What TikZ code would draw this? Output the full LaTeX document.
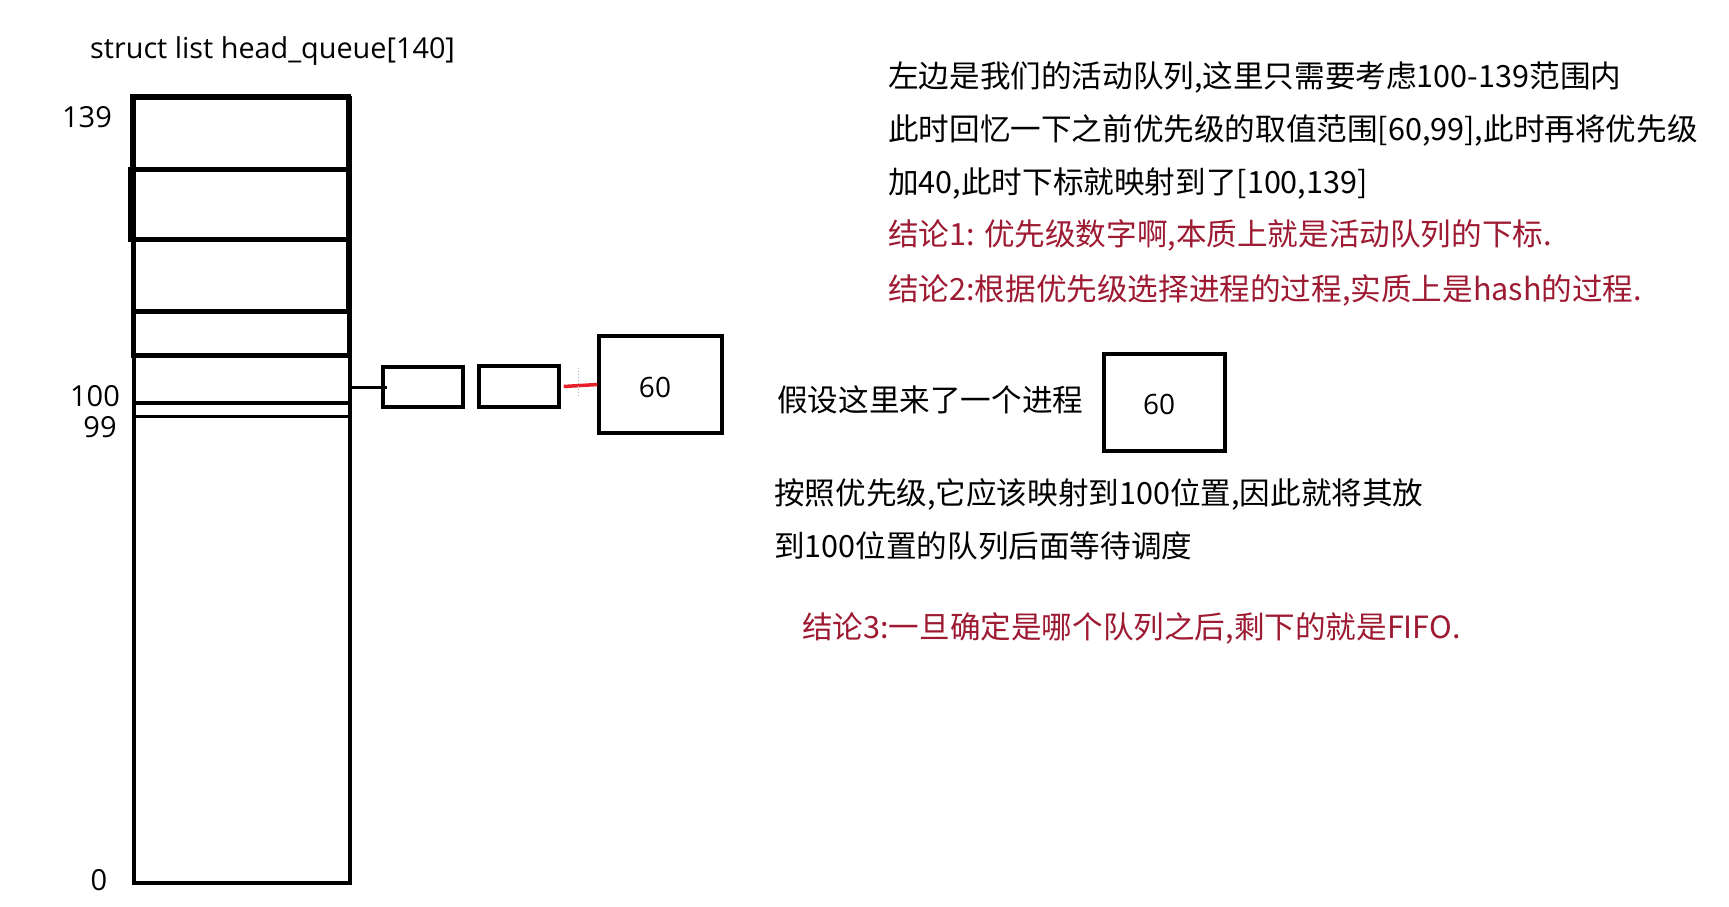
\documentclass[tikz,border=0pt]{standalone}
\usepackage{fontspec}
\setmainfont{Open Sans}
\newfontfamily\cjk{Noto Sans CJK SC}
\definecolor{concl}{HTML}{9E1A32}
\definecolor{linkred}{HTML}{E8202A}
\tikzset{
  txt/.style={anchor=base west, inner sep=0, font=\cjk\fontsize{30.6}{36}\selectfont},
  ctxt/.style={txt, text=concl},
  lbl/.style={anchor=base, inner sep=0, font=\fontsize{29}{34}\selectfont},
  boxsmall/.style={draw, line width=3.5, minimum width=80, minimum height=40, inner sep=0},
  boxbig/.style={draw, line width=3.5, inner sep=0, font=\fontsize{28}{32}\selectfont},
  thickrow/.style={line width=5},
  thinrow/.style={line width=3.2},
  conn/.style={line width=3},
}
\begin{document}
\begin{tikzpicture}[x=1pt,y=-1pt]
\useasboundingbox[fill=white] (0,0) rectangle (1729,906);

% title
\node[anchor=base west, inner sep=0, font=\fontsize{28.8}{34}\selectfont] (title) at (90,58) {struct list head\_queue[140]};

% array
\node[draw, line width=4, minimum width=216, minimum height=785, inner sep=0, anchor=north west] (arr) at (132,96) {};
\draw[thickrow] (132,96) rectangle (348,169);
\draw[thickrow] (130,169) rectangle (348,239);
\draw[thickrow] (133,239) rectangle (348,311);
\draw[thickrow] (133,311) rectangle (349,355);
\draw[thinrow] (132,403) -- (350,403);
\draw[thinrow] (132,416.5) -- (348,416.5);

\node[lbl] (l139) at (87,127) {139};
\node[lbl] (l100) at (95,406) {100};
\node[lbl] (l99) at (100,437) {99};
\node[lbl] (l0) at (99,890) {0};

% list
\node[boxsmall] (b1) at (423,387) {};
\node[boxsmall, minimum height=41] (b2) at (519,386.5) {};
\node[boxbig, minimum width=123, minimum height=97] (bb) at (660.5,384.5) {};
\node[anchor=base, inner sep=0, font=\fontsize{28}{32}\selectfont] (bbt) at (655,397) {60};
\draw[conn] (arr.east |- b1.west) -- ([xshift=6]b1.west);
\draw[linkred, line width=3.5] ([xshift=3]b2.east) -- (bb.west);
\coordinate (d1) at (578,368);
\coordinate (d2) at (578,396);
\draw[gray!60, dotted, line width=1] (d1) -- (d2);

% right texts
\node[txt] (t1) at (888,87) {左边是我们的活动队列,这里只需要考虑100-139范围内};
\node[txt] (t2) at (888,140) {此时回忆一下之前优先级的取值范围[60,99],此时再将优先级};
\node[txt] (t3) at (888,193) {加40,此时下标就映射到了[100,139]};
\node[ctxt] (t4) at (888,245) {结论1: 优先级数字啊,本质上就是活动队列的下标.};
\node[ctxt] (t5) at (888,300) {结论2:根据优先级选择进程的过程,实质上是hash的过程.};

\node[txt] (t6) at (777,411) {假设这里来了一个进程};
\node[boxbig, minimum width=121, minimum height=97] (bp) at (1164.5,402.5) {};
\node[anchor=base, inner sep=0, font=\fontsize{28}{32}\selectfont] (bpt) at (1159,414) {60};

\node[txt] (t7) at (774,504) {按照优先级,它应该映射到100位置,因此就将其放};
\node[txt] (t8) at (774,557) {到100位置的队列后面等待调度};
\node[ctxt] (t9) at (802,638) {结论3:一旦确定是哪个队列之后,剩下的就是FIFO.};
\end{tikzpicture}
\end{document}
